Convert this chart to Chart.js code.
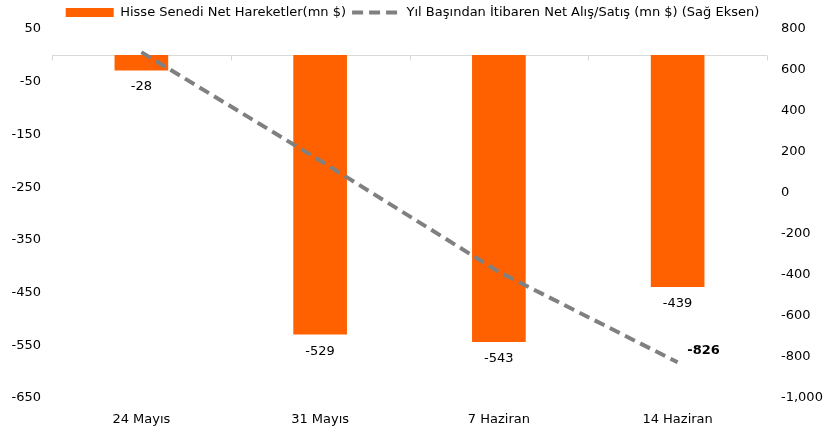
<!DOCTYPE html>
<html><head><meta charset="utf-8">
<script src="https://cdn.jsdelivr.net/npm/chart.js@4"></script>
<style>html,body{margin:0;padding:0;background:#fff}#wrap{width:825px;height:432px}</style>
</head><body><div id="wrap"><canvas id="c" width="825" height="432"></canvas></div>
<script>
const categories = ['24 Mayıs', '31 Mayıs', '7 Haziran', '14 Haziran'];
const weeklyNet = [-28, -529, -543, -439];
const ytdNet = [687, 158, -385, -826];
const barLabel = 'Hisse Senedi Net Hareketler(mn $)';
const lineLabel = 'Yıl Başından İtibaren Net Alış/Satış (mn $) (Sağ Eksen)';
const FONT = "'DejaVu Sans', sans-serif";
const LINE_DASH = [11, 6];

const decor = {
  id: 'decor',
  beforeDatasetsDraw(chart) {
    const ctx = chart.ctx, x = chart.scales.x, y = chart.scales.y;
    const y0 = Math.round(y.getPixelForValue(0)) + 0.5;
    ctx.save();
    ctx.strokeStyle = '#d9d9d9'; ctx.lineWidth = 1;
    ctx.beginPath();
    ctx.moveTo(x.left, y0); ctx.lineTo(x.right, y0);
    const n = categories.length;
    const bounds = [x.left];
    for (let i = 0; i < n - 1; i++) bounds.push((x.getPixelForValue(i) + x.getPixelForValue(i + 1)) / 2);
    bounds.push(x.right);
    bounds.forEach(b => { const bx = Math.round(b) + 0.5; ctx.moveTo(bx, y0); ctx.lineTo(bx, y0 + 5); });
    ctx.stroke();
    ctx.restore();
  },
  afterDatasetsDraw(chart) {
    const ctx = chart.ctx;
    ctx.save();
    ctx.fillStyle = '#000';
    ctx.textAlign = 'center'; ctx.textBaseline = 'middle';
    ctx.font = '13px ' + FONT;
    const bm = chart.getDatasetMeta(0);
    bm.data.forEach((el, i) => {
      ctx.fillText(String(weeklyNet[i]), el.x, el.y + 17);
    });
    const lm = chart.getDatasetMeta(1);
    const last = lm.data[lm.data.length - 1];
    ctx.font = 'bold 13px ' + FONT;
    ctx.fillText(String(ytdNet[ytdNet.length - 1]), last.x + 26, last.y - 12);
    ctx.restore();
  }
};

new Chart(document.getElementById('c'), {
  type: 'bar',
  data: {
    labels: categories,
    datasets: [
      { type: 'bar', label: barLabel, data: weeklyNet, yAxisID: 'y', backgroundColor: '#FF6000',
        borderWidth: 0, barThickness: 53, pointStyle: 'rect', order: 1 },
      { type: 'line', label: lineLabel, data: ytdNet, yAxisID: 'y1', borderColor: '#808080',
        backgroundColor: '#808080', borderWidth: 4, borderDash: LINE_DASH, pointRadius: 0,
        pointStyle: 'line', fill: false, tension: 0, order: 0 }
    ]
  },
  options: {
    responsive: false, animation: false, devicePixelRatio: 1,
    layout: { padding: { top: 0, bottom: 0, left: 0, right: 0 } },
    plugins: {
      tooltip: { enabled: false },
      legend: {
        position: 'top',
        labels: {
          usePointStyle: true, pointStyleWidth: 48, boxHeight: 9, boxWidth: 48,
          color: '#000', font: { family: FONT, size: 13 }, padding: 6,
          sort: (a, b) => a.datasetIndex - b.datasetIndex,
          generateLabels(chart) {
            const items = Chart.defaults.plugins.legend.labels.generateLabels(chart);
            items.forEach(it => {
              if (it.datasetIndex === 1) { it.lineDash = LINE_DASH; it.lineWidth = 4; it.strokeStyle = '#808080'; }
            });
            return items;
          }
        }
      }
    },
    scales: {
      x: {
        grid: { display: false }, border: { display: false },
        ticks: { color: '#000', font: { family: FONT, size: 13 }, padding: 6 },
        afterFit(s) { s.height = 34; }
      },
      y: {
        position: 'left', min: -650, max: 50,
        ticks: { stepSize: 100, color: '#000', font: { family: FONT, size: 13 } },
        grid: { display: false }, border: { display: false },
        afterFit(s) { s.width = 52; }
      },
      y1: {
        position: 'right', min: -1000, max: 800,
        ticks: { stepSize: 200, color: '#000', font: { family: FONT, size: 13 }, padding: 6,
          callback: v => v.toLocaleString('en-US') },
        grid: { display: false }, border: { display: false },
        afterFit(s) { s.width = 58; }
      }
    }
  },
  plugins: [decor]
});
</script></body></html>
